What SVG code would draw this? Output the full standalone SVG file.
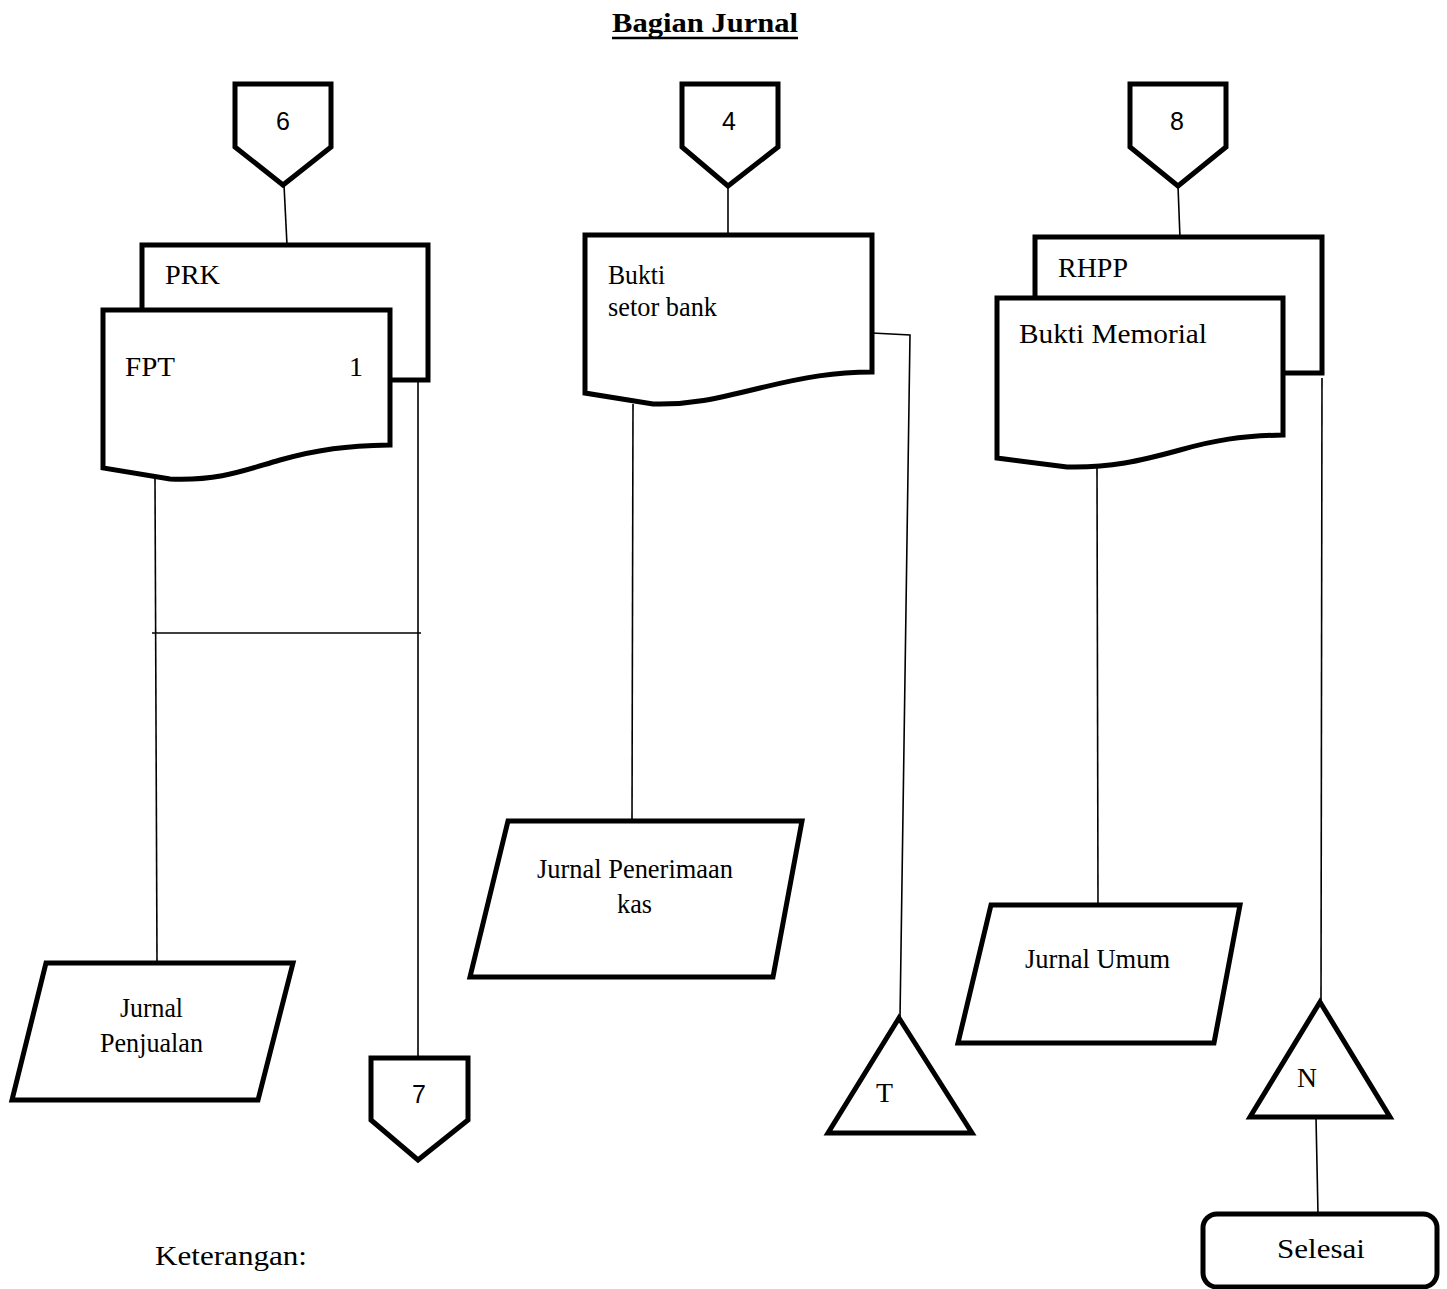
<svg xmlns="http://www.w3.org/2000/svg" width="1447" height="1289" viewBox="0 0 1447 1289">
<style>
.shape{fill:#fff;stroke:#000;stroke-width:5;stroke-linejoin:miter}
.ln{fill:none;stroke:#000;stroke-width:1.6}
.serif{font-family:"Liberation Serif","Times New Roman",serif;font-size:28px;fill:#000}
.sans{font-family:"Liberation Sans",Arial,sans-serif;font-size:25px;fill:#000}
</style>
<rect width="1447" height="1289" fill="#fff"/>
<g id="title">
<text x="612" y="32" class="serif" font-size="27" font-weight="bold" textLength="186" lengthAdjust="spacingAndGlyphs">Bagian Jurnal</text>
<line x1="612" y1="38" x2="798" y2="38" stroke="#000" stroke-width="2.5"/>
</g>
<g id="connectors">
<path class="ln" d="M284,185 L287,245"/>
<path class="ln" d="M728,186 L728,236"/>
<path class="ln" d="M1178,186 L1180,238"/>
<path class="ln" d="M155,479 L157,962"/>
<path class="ln" d="M418,382 L418,1058"/>
<path class="ln" d="M152,633 L421,633"/>
<path class="ln" d="M633,404 L632,821"/>
<path class="ln" d="M872,333 L910,335 L900,1018"/>
<path class="ln" d="M1097,467 L1098,905"/>
<path class="ln" d="M1322,378 L1321,1002"/>
<path class="ln" d="M1316,1117 L1318,1214"/>
</g>
<g id="conn6">
<path class="shape" d="M235,84 H331 V147 L283,185 L235,147 Z"/>
<text x="283" y="130" class="sans" text-anchor="middle">6</text>
</g>
<g id="conn4">
<path class="shape" d="M682,84 H778 V147 L728,186 L682,147 Z"/>
<text x="729" y="130" class="sans" text-anchor="middle">4</text>
</g>
<g id="conn8">
<path class="shape" d="M1130,84 H1226 V147 L1178,186 L1130,147 Z"/>
<text x="1177" y="130" class="sans" text-anchor="middle">8</text>
</g>
<g id="docPRK">
<rect class="shape" x="142" y="245" width="286" height="135"/>
<text x="165" y="284" class="serif" textLength="55" lengthAdjust="spacingAndGlyphs">PRK</text>
</g>
<g id="docFPT">
<path class="shape" d="M103,310 H390 V445 C345,446 320,449 280,460 C245,470 220,481 170,479 L103,468 Z"/>
<text x="125" y="376" class="serif" textLength="50" lengthAdjust="spacingAndGlyphs">FPT</text>
<text x="349" y="376" class="serif">1</text>
</g>
<g id="docBukti">
<path class="shape" d="M585,235 H872 V372 C835,372 805,377 760,388 C715,399 690,405 653,404 L585,393 Z"/>
<text x="608" y="284" class="serif" font-size="26" textLength="57" lengthAdjust="spacingAndGlyphs">Bukti</text>
<text x="608" y="316" class="serif" font-size="26" textLength="109" lengthAdjust="spacingAndGlyphs">setor bank</text>
</g>
<g id="docRHPP">
<rect class="shape" x="1035" y="237" width="287" height="136"/>
<text x="1058" y="277" class="serif" textLength="70" lengthAdjust="spacingAndGlyphs">RHPP</text>
</g>
<g id="docMemorial">
<path class="shape" d="M997,298 H1283 V435 C1240,436 1215,440 1180,450 C1140,461 1110,468 1067,467 L997,458 Z"/>
<text x="1019" y="343" class="serif" font-size="29" textLength="188" lengthAdjust="spacingAndGlyphs">Bukti Memorial</text>
</g>
<g id="jurnalPenjualan">
<path class="shape" d="M46,963 H293 L258,1100 H12 Z"/>
<text x="120" y="1017" class="serif" font-size="26" textLength="63" lengthAdjust="spacingAndGlyphs">Jurnal</text>
<text x="100" y="1052" class="serif" font-size="26" textLength="103" lengthAdjust="spacingAndGlyphs">Penjualan</text>
</g>
<g id="jurnalPenerimaan">
<path class="shape" d="M508,821 H802 L773,977 H470 Z"/>
<text x="537" y="878" class="serif" font-size="26" textLength="196" lengthAdjust="spacingAndGlyphs">Jurnal Penerimaan</text>
<text x="617" y="913" class="serif" font-size="26" textLength="35" lengthAdjust="spacingAndGlyphs">kas</text>
</g>
<g id="jurnalUmum">
<path class="shape" d="M991,905 H1240 L1214,1043 H958 Z"/>
<text x="1025" y="968" class="serif" font-size="26" textLength="145" lengthAdjust="spacingAndGlyphs">Jurnal Umum</text>
</g>
<g id="conn7">
<path class="shape" d="M371,1058 H468 V1120 L418,1160 L371,1120 Z"/>
<text x="419" y="1103" class="sans" text-anchor="middle">7</text>
</g>
<g id="storeT">
<path class="shape" d="M899,1018 L972,1133 H828 Z"/>
<text x="876" y="1102" class="serif" textLength="17" lengthAdjust="spacingAndGlyphs">T</text>
</g>
<g id="storeN">
<path class="shape" d="M1320,1002 L1390,1117 H1250 Z"/>
<text x="1297" y="1087" class="serif" textLength="20" lengthAdjust="spacingAndGlyphs">N</text>
</g>
<g id="selesai">
<rect class="shape" x="1203" y="1214" width="234" height="73" rx="14"/>
<text x="1277" y="1258" class="serif" font-size="30" textLength="88" lengthAdjust="spacingAndGlyphs">Selesai</text>
</g>
<g id="keterangan">
<text x="155" y="1265" class="serif" font-size="29" textLength="152" lengthAdjust="spacingAndGlyphs">Keterangan:</text>
</g>
</svg>
